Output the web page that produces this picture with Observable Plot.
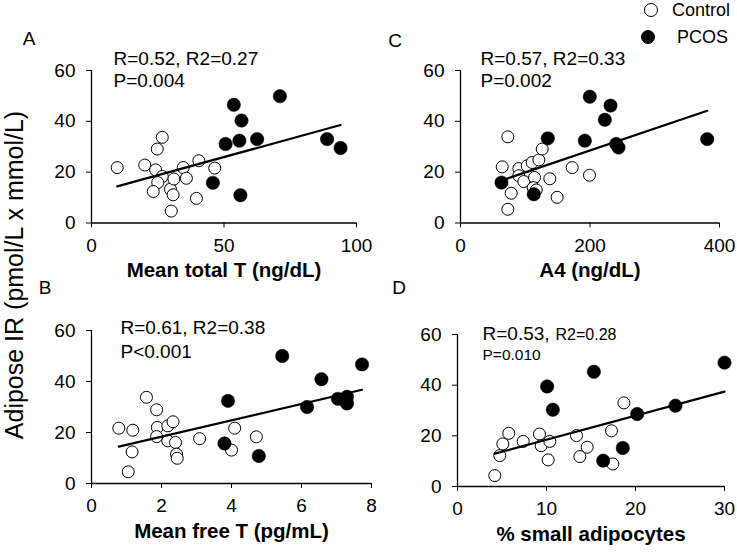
<!DOCTYPE html>
<html>
<head>
<meta charset="utf-8">
<script src="https://cdn.jsdelivr.net/npm/d3@7"></script>
<script src="https://cdn.jsdelivr.net/npm/@observablehq/plot@0.6"></script>
<style>
  body { margin: 0; background: white; }
  #root { position: relative; width: 737px; height: 553px; background: white; overflow: hidden;
          font-family: "Liberation Sans", Arial, sans-serif; color: black; }
  .abs { position: absolute; white-space: nowrap; }
  #root svg { position: absolute; }
</style>
</head>
<body>
<div id="root"></div>
<script>
// ---------- data ----------
const groups = ["Control", "PCOS"];
const yTicks = [0, 20, 40, 60];

// Panel A: Mean total T (ng/dL)
const aControlX = [9.7, 26.7, 24.8, 20.1, 24.2, 26.7, 25.0, 23.3, 29.8, 30.8, 31.1, 34.6, 35.8, 40.5, 46.5, 39.6, 30.1];
const aControlY = [21.8, 33.7, 29.1, 22.8, 20.9, 18.3, 15.9, 12.4, 13.3, 11.1, 17.3, 21.8, 17.6, 24.5, 21.6, 9.7, 4.7];
const aPcosX = [53.7, 71.1, 56.6, 50.6, 55.8, 62.5, 88.9, 94.0, 45.8, 56.2];
const aPcosY = [46.5, 49.9, 40.3, 31.1, 32.4, 33.0, 33.0, 29.5, 15.8, 10.9];
const aTicks = [0, 50, 100];

// Panel B: Mean free T (pg/mL)
const bControlX = [0.78, 1.18, 1.57, 1.86, 1.88, 1.86, 2.18, 2.33, 2.18, 2.40, 2.43, 2.45, 1.16, 1.05, 3.09, 4.09, 4.0, 4.71];
const bControlY = [21.7, 20.9, 33.8, 28.9, 22.0, 18.4, 22.6, 24.2, 16.7, 16.1, 11.5, 9.9, 12.4, 4.6, 17.6, 21.7, 13.1, 18.3];
const bPcosX = [5.45, 6.57, 7.73, 6.16, 7.04, 7.3, 7.3, 3.9, 3.8, 4.78];
const bPcosY = [50.0, 40.9, 46.7, 30.0, 33.2, 34.0, 31.4, 32.4, 15.7, 10.8];
const bTicks = [0, 2, 4, 6, 8];

// Panel C: A4 (ng/dL)
const cControlX = [73.1, 64.4, 90.1, 103.0, 110.7, 121.0, 126.2, 90.1, 97.8, 114.3, 112.3, 137.9, 78.3, 73.1, 149.3, 172.5, 199.2, 117.0];
const cControlY = [33.9, 22.1, 21.4, 22.5, 23.8, 24.8, 29.1, 18.6, 16.3, 17.9, 13.9, 17.4, 11.7, 5.4, 10.1, 21.8, 18.8, 13.0];
const cPcosX = [63.3, 113.2, 134.8, 192, 199.7, 231.7, 222.9, 240.5, 244, 381];
const cPcosY = [15.9, 11.3, 33.3, 32.4, 49.7, 46.2, 40.6, 31.1, 29.7, 33.0];
const cTicks = [0, 200, 400];

// Panel D: % small adipocytes
const dControlX = [4.19, 4.75, 5.09, 5.76, 7.38, 9.21, 9.4, 10.37, 10.19, 13.37, 14.57, 13.75, 17.3, 18.7, 17.45];
const dControlY = [4.3, 12.2, 16.8, 21.0, 17.8, 20.7, 16.1, 17.8, 10.5, 20.1, 15.5, 11.8, 22.0, 33.0, 8.9];
const dPcosX = [10.07, 10.71, 15.32, 16.37, 18.57, 20.19, 24.49, 30.0];
const dPcosY = [39.5, 30.3, 45.3, 10.2, 15.2, 28.6, 31.9, 48.9];
const dTicks = [0, 10, 20, 30];

const xTitles = ["Mean total T (ng/dL)", "Mean free T (pg/mL)", "A4 (ng/dL)", "% small adipocytes"];
const panelLetters = ["A", "B", "C", "D"];
const statR = ["R=0.52, R2=0.27", "R=0.61, R2=0.38", "R=0.57, R2=0.33", "R=0.53,"];
const statR2 = ["", "", "", "R2=0.28"];
const statP = ["P=0.004", "P<0.001", "P=0.002", "P=0.010"];
const yTitle = "Adipose IR (pmol/L x mmol/L)";

// ---------- helpers ----------
const zip = (xs, ys, g) => xs.map((x, i) => ({x, y: ys[i], g}));
const FONT = '"Liberation Sans", Arial, sans-serif';

function panel(o) {
  const control = zip(o.cx, o.cy, groups[0]);
  const pcos = zip(o.px, o.py, groups[1]);
  const all = control.concat(pcos);
  const marks = [
    Plot.axisX({ticks: o.ticks, tickSize: 5, tickPadding: 10, label: null, fontSize: 19}),
    Plot.axisY({ticks: yTicks, tickSize: 5, tickPadding: 11, label: null, fontSize: 19}),
    Plot.ruleY([0], {stroke: "black", strokeWidth: 1.3}),
    Plot.ruleX([o.domain[0]], {stroke: "black", strokeWidth: 1.3}),
    Plot.dot(control, {x: "x", y: "y", r: 6, fill: "white", stroke: "black", strokeWidth: 1}),
    Plot.linearRegressionY(all, {x: "x", y: "y", ci: 0, stroke: "black", strokeWidth: 2.2}),
    Plot.dot(pcos, {x: "x", y: "y", r: 6.7, fill: "black", stroke: "black", strokeWidth: 0.5}),
    Plot.text([o.title], {frameAnchor: "bottom", dy: 54, fontWeight: "bold", fontSize: 20.5, fill: "black"}),
    Plot.text([o.r], {frameAnchor: "top-left", textAnchor: "start", lineAnchor: "middle", dx: o.adx, dy: o.rdy, fontSize: 19, fill: "black"}),
    Plot.text([o.p], {frameAnchor: "top-left", textAnchor: "start", lineAnchor: "middle", dx: o.adx, dy: o.pdy, fontSize: o.pSize || 19, fill: "black"})
  ];
  if (o.r2) marks.push(Plot.text([o.r2], {frameAnchor: "top-left", textAnchor: "start", lineAnchor: "middle", dx: o.r2dx, dy: o.rdy + 1.5, fontSize: 16, fill: "black"}));
  const svg = Plot.plot({
    width: o.w, height: o.h,
    marginLeft: o.ml, marginRight: o.mr, marginTop: o.mt, marginBottom: o.mb,
    style: {background: "transparent", fontFamily: FONT, fontSize: "19px", color: "black", overflow: "visible"},
    x: {domain: o.domain},
    y: {domain: [0, 60]},
    marks
  });
  svg.style.left = o.left + "px";
  svg.style.top = o.top + "px";
  return svg;
}

const root = document.getElementById("root");

root.append(panel({left: 0, top: 0, w: 375, h: 300, ml: 91, mr: 19, mt: 70, mb: 77.5,
  domain: [0, 100], ticks: aTicks, cx: aControlX, cy: aControlY, px: aPcosX, py: aPcosY,
  title: xTitles[0], r: statR[0], p: statP[0], adx: 22, rdy: -12, pdy: 10}));

root.append(panel({left: 375, top: 0, w: 362, h: 300, ml: 85, mr: 18, mt: 70, mb: 77.5,
  domain: [0, 400], ticks: cTicks, cx: cControlX, cy: cControlY, px: cPcosX, py: cPcosY,
  title: xTitles[2], r: statR[2], p: statP[2], adx: 20, rdy: -12, pdy: 10}));

root.append(panel({left: 0, top: 300, w: 375, h: 253, ml: 91, mr: 4, mt: 30, mb: 70,
  domain: [0, 8], ticks: bTicks, cx: bControlX, cy: bControlY, px: bPcosX, py: bPcosY,
  title: xTitles[1], r: statR[1], p: statP[1], adx: 29, rdy: -3, pdy: 21}));

root.append(panel({left: 375, top: 300, w: 362, h: 253, ml: 82, mr: 13, mt: 34, mb: 67,
  domain: [0, 30], ticks: dTicks, cx: dControlX, cy: dControlY, px: dPcosX, py: dPcosY,
  title: xTitles[3], r: statR[3], r2: statR2[3], r2dx: 98, p: statP[3], pSize: 15.5, adx: 25, rdy: -1, pdy: 21}));

// panel letters
const letterPos = [[29, 39], [45, 288], [395, 41], [399, 288]];
panelLetters.forEach((L, i) => {
  const d = document.createElement("div");
  d.className = "abs";
  d.textContent = L;
  d.style.cssText += `left:${letterPos[i][0]}px;top:${letterPos[i][1]}px;transform:translate(-50%,-50%);font-size:19px;`;
  root.append(d);
});

// y-axis title
const yt = document.createElement("div");
yt.className = "abs";
yt.textContent = yTitle;
yt.style.cssText += "left:14px;top:275px;transform:translate(-50%,-50%) rotate(-90deg);font-size:25px;";
root.append(yt);

// legend
const legend = [
  {label: groups[0], fill: "white", cx: 651, cy: 10, tx: 672},
  {label: groups[1], fill: "black", cx: 648, cy: 37, tx: 677}
];
legend.forEach(l => {
  const c = document.createElement("div");
  c.className = "abs";
  c.style.cssText += `left:${l.cx - 7}px;top:${l.cy - 7}px;width:12px;height:12px;border:1px solid black;border-radius:50%;background:${l.fill};`;
  root.append(c);
  const t = document.createElement("div");
  t.className = "abs";
  t.textContent = l.label;
  t.style.cssText += `left:${l.tx}px;top:${l.cy}px;transform:translateY(-50%);font-size:18px;`;
  root.append(t);
});
</script>
</body>
</html>
